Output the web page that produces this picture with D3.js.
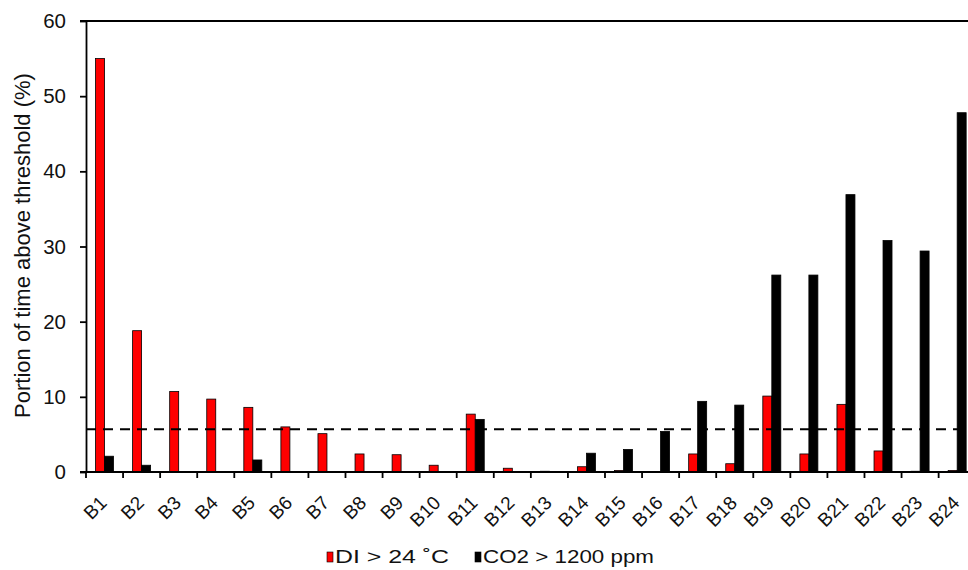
<!DOCTYPE html>
<html>
<head>
<meta charset="utf-8">
<script src="https://cdn.jsdelivr.net/npm/d3@7"></script>
<style>
  body { margin: 0; background: #fff; }
  svg { display: block; font-family: "Liberation Sans", Arial, sans-serif; }
</style>
</head>
<body>
<svg id="chart" width="968" height="570"></svg>
<script>
const buildings = ['B1','B2','B3','B4','B5','B6','B7','B8','B9','B10','B11','B12',
  'B13','B14','B15','B16','B17','B18','B19','B20','B21','B22','B23','B24'];
// DI > 24 °C
const diValues = [55.0, 18.8, 10.7, 9.7, 8.6, 6.0, 5.1, 2.4, 2.3, 0.9, 7.7, 0.5,
  0.1, 0.7, 0.2, 0.05, 2.4, 1.1, 10.1, 2.4, 9.0, 2.8, 0.1, 0.2];
// CO2 > 1200 ppm
const co2Values = [2.1, 0.9, 0, 0, 1.6, 0, 0, 0, 0, 0, 7.0, 0,
  0, 2.5, 3.0, 5.4, 9.4, 8.9, 26.2, 26.2, 36.9, 30.8, 29.4, 47.8];
const yTicks = [0, 10, 20, 30, 40, 50, 60];
const threshold = 5.7;
const seriesNames = ['DI > 24 \u02DAC', 'CO2 > 1200 ppm'];
const seriesColors = ['#ff0000', '#000000'];

const svg = d3.select('#chart');
const mLeft = 86, mRight = 975.7, mTop = 21, mBottom = 472;

const x = d3.scaleBand().domain(buildings).range([mLeft, mRight]).paddingInner(0).paddingOuter(0);
const sub = d3.scaleBand().domain(['di', 'co2']).range([0, x.bandwidth()]).paddingInner(0).paddingOuter(1.06);
const y = d3.scaleLinear().domain([0, 60]).range([mBottom, mTop]);

const rows = buildings.map((b, i) => ({ b, di: diValues[i], co2: co2Values[i] }));

// frame top line
svg.append('line')
  .attr('x1', mLeft - 6).attr('x2', 968)
  .attr('y1', y(60)).attr('y2', y(60))
  .attr('stroke', '#000').attr('stroke-width', 1.8);

// y axis
const yAxis = svg.append('g')
  .attr('transform', `translate(${mLeft},0)`)
  .call(d3.axisLeft(y).tickValues(yTicks).tickSize(6).tickPadding(14).tickSizeOuter(0));
yAxis.select('.domain').attr('stroke-width', 1.8);
yAxis.selectAll('.tick line').attr('stroke-width', 1.8);
yAxis.selectAll('text').attr('font-size', 20.5).attr('fill', '#111');

// bars
const group = svg.append('g').selectAll('g')
  .data(rows).join('g')
  .attr('transform', d => `translate(${x(d.b)},0)`);

group.selectAll('rect')
  .data(d => [{ k: 'di', v: d.di }, { k: 'co2', v: d.co2 }])
  .join('rect')
  .attr('x', d => sub(d.k))
  .attr('width', sub.bandwidth())
  .attr('y', d => y(d.v))
  .attr('height', d => y(0) - y(d.v))
  .attr('fill', d => d.k === 'di' ? seriesColors[0] : seriesColors[1])
  .attr('stroke', '#000')
  .attr('stroke-width', d => d.v > 0 ? 0.8 : 0);

// threshold line
svg.append('line')
  .attr('x1', mLeft).attr('x2', 968)
  .attr('y1', y(threshold)).attr('y2', y(threshold))
  .attr('stroke', '#000').attr('stroke-width', 2)
  .attr('stroke-dasharray', '10,7');

// x axis: ticks between categories
const xAxis = svg.append('g');
xAxis.append('line')
  .attr('x1', mLeft - 6).attr('x2', 968)
  .attr('y1', mBottom).attr('y2', mBottom)
  .attr('stroke', '#000').attr('stroke-width', 1.8);
xAxis.selectAll('line.tk')
  .data(buildings).join('line')
  .attr('class', 'tk')
  .attr('x1', d => x(d)).attr('x2', d => x(d))
  .attr('y1', mBottom).attr('y2', mBottom + 6)
  .attr('stroke', '#000').attr('stroke-width', 1.8);
xAxis.selectAll('text')
  .data(buildings).join('text')
  .attr('transform', d => `translate(${x(d) + x.bandwidth() / 2 + 3.5},${mBottom + 32}) rotate(-45)`)
  .attr('text-anchor', 'end')
  .attr('font-size', 19)
  .attr('fill', '#111')
  .text(d => d);

// y axis title
svg.append('text')
  .attr('transform', 'translate(30,245.5) rotate(-90)')
  .attr('text-anchor', 'middle')
  .attr('font-size', 22)
  .attr('fill', '#111')
  .text('Portion of time above threshold (%)');

// legend
const legend = svg.append('g').attr('transform', 'translate(327,563)');
const items = [{ name: seriesNames[0], color: seriesColors[0], x: 0, w: 114 },
  { name: seriesNames[1], color: seriesColors[1], x: 148, w: 171 }];
const li = legend.selectAll('g').data(items).join('g')
  .attr('transform', d => `translate(${d.x},0)`);
li.append('rect')
  .attr('x', 0).attr('y', -11).attr('width', 6).attr('height', 10)
  .attr('fill', d => d.color).attr('stroke', '#000').attr('stroke-width', 0.6);
li.append('text')
  .attr('x', 8).attr('y', 0)
  .attr('font-size', 18.5)
  .attr('fill', '#111')
  .attr('textLength', d => d.w)
  .attr('lengthAdjust', 'spacingAndGlyphs')
  .text(d => d.name);
</script>
</body>
</html>
